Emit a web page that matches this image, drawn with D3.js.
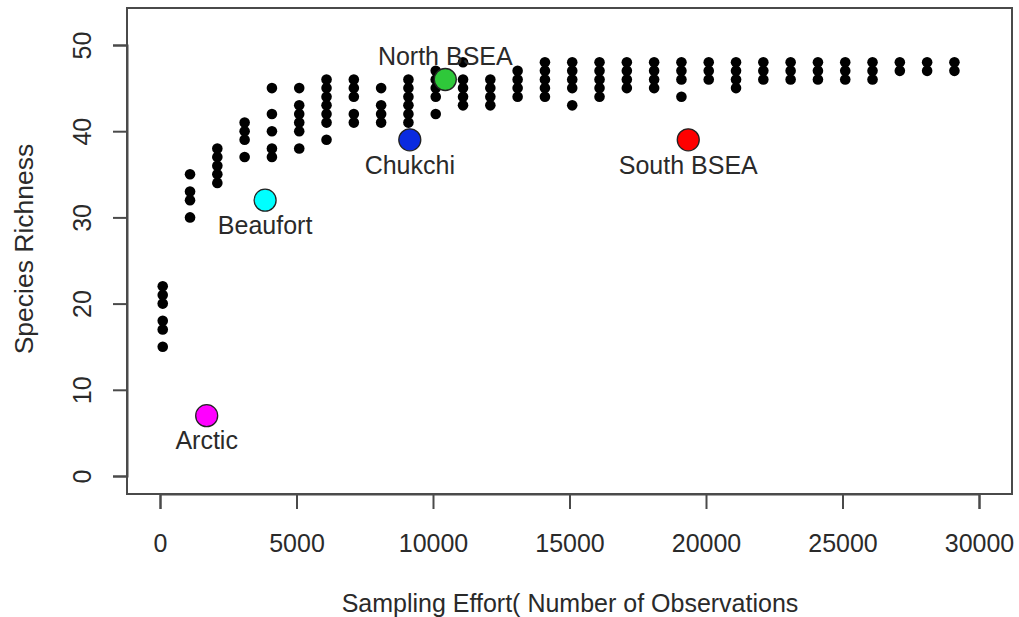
<!DOCTYPE html>
<html>
<head>
<meta charset="utf-8">
<script src="https://cdn.jsdelivr.net/npm/d3@7"></script>
<style>
  html, body { margin: 0; padding: 0; background: #fff; }
  svg { display: block; font-family: "Liberation Sans", Arial, sans-serif; }
</style>
</head>
<body>
<div id="chart"></div>
<script>
// Species richness vs sampling effort (rarefaction-style scatter)

// ── Data ──────────────────────────────────────────────────────────────────
const effortColumns = [100, 1100, 2100, 3100, 4100, 5100, 6100, 7100, 8100, 9100,
    10100, 11100, 12100, 13100, 14100, 15100, 16100, 17100, 18100, 19100,
    20100, 21100, 22100, 23100, 24100, 25100, 26100, 27100, 28100, 29100];

const richnessByColumn = [
    [15, 17, 18, 20, 21, 22],
    [30, 32, 33, 35],
    [34, 35, 36, 37, 38],
    [37, 39, 40, 41],
    [37, 38, 40, 42, 45],
    [38, 40, 41, 42, 43, 45],
    [39, 41, 42, 43, 44, 45, 46],
    [41, 42, 44, 45, 46],
    [41, 42, 43, 45],
    [41, 42, 43, 44, 45, 46],
    [42, 44, 45, 46, 47],
    [43, 44, 45, 46, 48],
    [43, 44, 45, 46],
    [44, 45, 46, 47],
    [44, 45, 46, 47, 48],
    [43, 45, 46, 47, 48],
    [44, 45, 46, 47, 48],
    [45, 46, 47, 48],
    [45, 46, 47, 48],
    [44, 46, 47, 48],
    [46, 47, 48],
    [45, 46, 47, 48],
    [46, 47, 48],
    [46, 47, 48],
    [46, 47, 48],
    [46, 47, 48],
    [46, 47, 48],
    [47, 48],
    [47, 48],
    [47, 48]
];

const regionNames    = ['Arctic', 'Beaufort', 'Chukchi', 'North BSEA', 'South BSEA'];
const regionEffort   = [1710, 3850, 9150, 10450, 19350];
const regionRichness = [7, 32, 39, 46, 39];

const xTicks = [0, 5000, 10000, 15000, 20000, 25000, 30000];
const yTicks = [0, 10, 20, 30, 40, 50];

// styling
const regionColors = ['#ff00ff', '#00ffff', '#0a2be0', '#2fc83a', '#ff0000'];
const labelAbove   = { 'North BSEA': true };

// ── Layout ────────────────────────────────────────────────────────────────
const width = 1019, height = 617;
const box = { left: 127, right: 1012, top: 8, bottom: 494 };
const fontSize = 25;
const textColor = '#2a2a2a';
const lineColor = '#4a4a4a';

const x = d3.scaleLinear().domain([0, 30000]).range([160, 979]);
const y = d3.scaleLinear().domain([0, 50]).range([476, 45]);

const svg = d3.select('#chart').append('svg')
    .attr('width', width).attr('height', height);

// plot frame
svg.append('rect')
    .attr('x', box.left).attr('y', box.top)
    .attr('width', box.right - box.left).attr('height', box.bottom - box.top)
    .attr('fill', 'none').attr('stroke', lineColor).attr('stroke-width', 2);

// ── Axes ──────────────────────────────────────────────────────────────────
const xAxis = svg.append('g')
    .attr('transform', 'translate(0,' + box.bottom + ')')
    .call(d3.axisBottom(x).tickValues(xTicks).tickSize(15).tickPadding(25)
        .tickFormat(d3.format('d')));
xAxis.select('.domain').attr('stroke', lineColor).attr('stroke-width', 2);
xAxis.selectAll('.tick line').attr('stroke', lineColor).attr('stroke-width', 2);
xAxis.selectAll('text')
    .style('font-size', fontSize + 'px').style('font-family', 'Liberation Sans, Arial, sans-serif')
    .attr('fill', textColor);

const yAxis = svg.append('g')
    .attr('transform', 'translate(' + box.left + ',0)')
    .call(d3.axisLeft(y).tickValues(yTicks).tickSize(14));
yAxis.select('.domain').attr('stroke', lineColor).attr('stroke-width', 2);
yAxis.selectAll('.tick line').attr('stroke', lineColor).attr('stroke-width', 2);
yAxis.selectAll('text')
    .attr('transform', 'rotate(-90)')
    .attr('x', 0).attr('y', -45).attr('dy', '0.35em')
    .attr('text-anchor', 'middle')
    .style('font-size', fontSize + 'px').style('font-family', 'Liberation Sans, Arial, sans-serif')
    .attr('fill', textColor);

// axis titles
svg.append('text')
    .attr('x', 570).attr('y', 612)
    .attr('text-anchor', 'middle')
    .style('font-size', fontSize + 'px').attr('fill', textColor)
    .text('Sampling Effort( Number of Observations');

svg.append('text')
    .attr('transform', 'translate(33,249) rotate(-90)')
    .attr('text-anchor', 'middle')
    .style('font-size', '26.5px').attr('fill', textColor)
    .text('Species Richness');

// ── Black points ──────────────────────────────────────────────────────────
const points = [];
effortColumns.forEach((e, i) => {
    richnessByColumn[i].forEach(r => points.push({ effort: e, richness: r }));
});

svg.append('g').selectAll('circle')
    .data(points)
    .join('circle')
    .attr('cx', d => x(d.effort))
    .attr('cy', d => y(d.richness))
    .attr('r', 5.3)
    .attr('fill', '#000');

// ── Region points & labels ────────────────────────────────────────────────
const regions = regionNames.map((name, i) => ({
    name, effort: regionEffort[i], richness: regionRichness[i], color: regionColors[i]
}));

svg.append('g').selectAll('circle')
    .data(regions)
    .join('circle')
    .attr('cx', d => x(d.effort))
    .attr('cy', d => y(d.richness))
    .attr('r', 11)
    .attr('fill', d => d.color)
    .attr('stroke', '#222').attr('stroke-width', 1.3);

svg.append('g').selectAll('text')
    .data(regions)
    .join('text')
    .attr('x', d => x(d.effort))
    .attr('y', d => y(d.richness) + (labelAbove[d.name] ? -23 : 25))
    .attr('dy', '0.35em')
    .attr('text-anchor', 'middle')
    .style('font-size', fontSize + 'px')
    .attr('fill', textColor)
    .text(d => d.name);
</script>
</body>
</html>
